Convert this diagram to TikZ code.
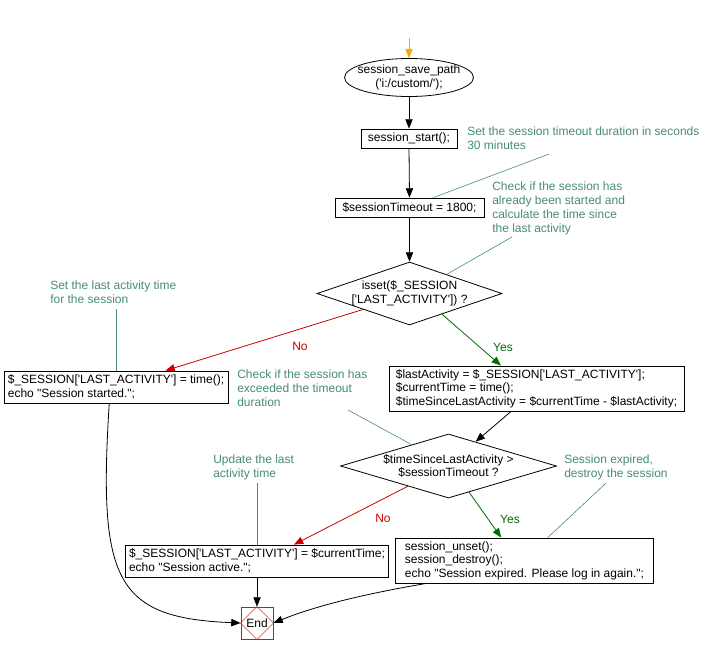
\documentclass[tikz,border=0pt]{standalone}
\usepackage{fontspec}
\setmainfont{Liberation Sans}[Ligatures=TeXOff]
\usetikzlibrary{arrows.meta,shapes.geometric,calc}
\definecolor{cmt}{RGB}{72,140,110}
\definecolor{yesg}{RGB}{0,110,0}
\definecolor{nor}{RGB}{204,0,0}
\definecolor{endr}{RGB}{160,40,40}
\definecolor{endd}{RGB}{210,60,60}
\definecolor{orng}{RGB}{255,165,0}
\begin{document}
\begin{tikzpicture}[x=0.75pt,y=-0.75pt,
  font=\fontsize{9}{10.2}\selectfont,
  box/.style={draw, line width=0.6pt, inner sep=0pt, align=left, fill=white},
  cbox/.style={draw, line width=0.6pt, inner sep=0pt, align=center, fill=white},
  ell/.style={draw, ellipse, line width=0.6pt, inner sep=0pt},
  dia/.style={draw, diamond, line width=0.6pt, inner sep=0pt},
  plain/.style={inner sep=0pt, align=center},
  arr/.style={-{Triangle[length=7pt,width=5.5pt]}, line width=0.6pt},
  cmtline/.style={draw=cmt, line width=0.45pt},
  cmttext/.style={text=cmt, anchor=north west, inner sep=0pt, align=left, font=\fontsize{9}{10.5}\selectfont},
  lbl/.style={inner sep=0pt}
]
\useasboundingbox (0,0) rectangle (721,654);

% comments
\node[cmttext] (c1) at (467,127) {Set the session timeout duration in seconds\\30 minutes};
\node[cmttext] (c2) at (492,182) {Check if the session has\\already been started and\\calculate the time since\\the last activity};
\node[cmttext] (c3) at (50,281) {Set the last activity time\\for the session};
\node[cmttext] (c4) at (237,370) {Check if the session has\\exceeded the timeout\\duration};
\node[cmttext] (c5) at (564,455) {Session expired,\\destroy the session};
\node[cmttext] (c6) at (213,455) {Update the last\\activity time};
\coordinate (c1a) at (549,154);
\coordinate (c2a) at (512,237);
\coordinate (c3a) at (116,309);
\coordinate (c4a) at (348,410);
\coordinate (c5a) at (606,483);
\coordinate (c6a) at (257,483);

% nodes
\coordinate (top) at (409,38);
\node[ell, minimum width=96.75pt, minimum height=28.5pt] (ell) at (409,77.5) {};
\node[plain] (ellt) at (ell.center) {session\_save\_path\\('i:/custom/');};
\node[cbox, minimum width=72pt, minimum height=14.25pt] (start) at (409,138.5) {session\_start();};
\node[cbox, minimum width=111.75pt, minimum height=14.25pt] (tmo) at (409.5,207.5) {\$sessionTimeout = 1800;};
\node[dia, minimum width=138.75pt, minimum height=47.25pt] (d1) at (409.5,293.5) {};
\node[plain] (d1t) at (d1.center) {isset(\$\_SESSION\\{}['LAST\_ACTIVITY']) ?};
\node[box, minimum width=168pt, minimum height=24pt] (lb1) at (116,387) {\$\_SESSION['LAST\_ACTIVITY'] = time();\\echo "Session started.";};
\node[box, minimum width=221.25pt, minimum height=33.75pt] (rb1) at (536.5,388.5) {\$lastActivity = \$\_SESSION['LAST\_ACTIVITY'];\\\$currentTime = time();\\\$timeSinceLastActivity = \$currentTime - \$lastActivity;};
\node[dia, minimum width=162pt, minimum height=48pt] (d2) at (448.5,466) {};
\node[plain] (d2t) at (d2.center) {\$timeSinceLastActivity >\\\$sessionTimeout ?};
\node[box, minimum width=193.5pt, minimum height=33.75pt] (rb2) at (524.5,560.5) {session\_unset();\\session\_destroy();\\echo "Session expired. Please log in again.";};
\node[box, minimum width=197.25pt, minimum height=24pt] (lb2) at (257,561) {\$\_SESSION['LAST\_ACTIVITY'] = \$currentTime;\\echo "Session active.";};
\node[draw=endr, line width=0.6pt, minimum width=24pt, minimum height=24pt, inner sep=0pt] (end) at (257,623) {};
\draw[endd, line width=0.4pt] (end.north) -- (end.east) -- (end.south) -- (end.west) -- cycle;
\node[plain] (endt) at (end.center) {End};

% comment leaders
\draw[cmtline] (c1a) -- ($(tmo.north west)!0.66!(tmo.north east)$);
\draw[cmtline] (c2a) -- ($(d1.north)!0.4!(d1.east)$);
\draw[cmtline] (c3a) -- (lb1.north);
\draw[cmtline] (c4a) -- ($(d2.north)!0.34!(d2.west)$);
\draw[cmtline] (c5a) -- ($(rb2.north west)!0.59!(rb2.north east)$);
\draw[cmtline] (c6a) -- (lb2.north);

% connectors
\draw[arr, orng] (top) -- (ell.north);
\draw[arr] (ell.south) -- (start.north);
\draw[arr] (start.south) -- (tmo.north);
\draw[arr] (tmo.south) -- (d1.north);
\draw[arr, nor] (d1.south west) -- ($(lb1.north)!0.44!(lb1.north east)$);
\node[lbl, text=nor] (no1) at (300,346) {No};
\draw[arr, yesg] ($(d1.south)!0.35!(d1.east)$) -- ($(rb1.north west)!0.38!(rb1.north east)$);
\node[lbl, text=yesg] (yes1) at (503,347) {Yes};
\draw[arr] ($(rb1.south west)!0.414!(rb1.south east)$) -- ($(d2.north)!0.25!(d2.east)$);
\draw[arr, yesg] ($(d2.south)!0.19!(d2.east)$) -- ($(rb2.north west)!0.41!(rb2.north east)$);
\node[lbl, text=yesg] (yes2) at (510,519) {Yes};
\draw[arr, nor] ($(d2.south)!0.375!(d2.west)$) -- ($(lb2.north west)!0.64!(lb2.north east)$);
\node[lbl, text=nor] (no2) at (383,518) {No};
\draw[arr] (lb2.south) -- (end.north);
\draw[arr] ($(lb1.south west)!0.47!(lb1.south east)$) .. controls (98,580) and (115,618) .. (end.west);
\draw[arr] ($(rb2.south west)!0.12!(rb2.south east)$) .. controls (400,588) and (330,600) .. (end.east);
\end{tikzpicture}
\end{document}
